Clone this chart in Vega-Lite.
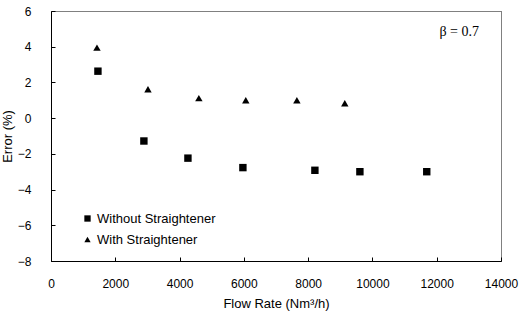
{
  "$schema": "https://vega.github.io/schema/vega-lite/v6.json",
  "width": 450,
  "height": 250,
  "autosize": {"type": "none"},
  "padding": {"left": 51, "top": 11, "right": 29, "bottom": 61},
  "background": "white",
  "config": {
    "view": {"stroke": "#000", "strokeDash": [1, 1], "strokeWidth": 1},
    "font": "Liberation Sans",
    "axis": {"labelOverlap": false, "labelFlush": false, "labelBound": false}
  },
  "datasets": {
    "pts": [
      {"flow": 1460, "error": 2.63, "series": "Without Straightener"},
      {"flow": 2890, "error": -1.28, "series": "Without Straightener"},
      {"flow": 4260, "error": -2.24, "series": "Without Straightener"},
      {"flow": 5970, "error": -2.77, "series": "Without Straightener"},
      {"flow": 8210, "error": -2.92, "series": "Without Straightener"},
      {"flow": 9610, "error": -3.0, "series": "Without Straightener"},
      {"flow": 11690, "error": -3.0, "series": "Without Straightener"},
      {"flow": 1430, "error": 3.95, "series": "With Straightener"},
      {"flow": 3017, "error": 1.62, "series": "With Straightener"},
      {"flow": 4600, "error": 1.12, "series": "With Straightener"},
      {"flow": 6060, "error": 1.0, "series": "With Straightener"},
      {"flow": 7650, "error": 1.0, "series": "With Straightener"},
      {"flow": 9140, "error": 0.83, "series": "With Straightener"}
    ],
    "ann": [{"flow": 12700, "error": 4.82, "label": "β = 0.7"}]
  },
  "encoding": {
    "x": {
      "field": "flow", "type": "quantitative",
      "scale": {"domain": [0, 14000], "nice": false},
      "axis": {
        "title": "Flow Rate (Nm³/h)", "values": [0, 2000, 4000, 6000, 8000, 10000, 12000, 14000],
        "format": "d",
        "grid": false, "domainColor": "#000", "tickColor": "#000", "tickSize": -4,
        "labelPadding": 21, "labelFontSize": 12, "labelColor": "#000",
        "titleFontSize": 13, "titleFontWeight": "normal", "titleColor": "#000", "titlePadding": 8
      }
    },
    "y": {
      "field": "error", "type": "quantitative",
      "scale": {"domain": [-8, 6], "nice": false},
      "axis": {
        "title": "Error (%)", "values": [-8, -6, -4, -2, 0, 2, 4, 6],
        "format": "d",
        "grid": false, "domainColor": "#000", "tickColor": "#000", "tickSize": -4,
        "labelPadding": 24, "labelFontSize": 12, "labelColor": "#000",
        "titleFontSize": 13, "titleFontWeight": "normal", "titleColor": "#000", "titlePadding": 3
      }
    }
  },
  "layer": [
    {
      "data": {"name": "pts"},
      "mark": {"type": "point", "filled": true, "opacity": 1},
      "encoding": {
        "shape": {
          "field": "series", "type": "nominal",
          "scale": {"domain": ["Without Straightener", "With Straightener"], "range": ["square", "triangle-up"]},
          "legend": {
            "title": null, "orient": "none", "legendX": 30, "legendY": 201,
            "labelFontSize": 13, "labelColor": "#000", "symbolSize": 40,
            "symbolFillColor": "#000", "symbolStrokeColor": "#000", "rowPadding": 7, "labelOffset": 3
          }
        },
        "color": {"value": "#000"},
        "size": {"value": 55}
      }
    },
    {
      "data": {"name": "ann"},
      "mark": {"type": "text", "font": "Liberation Serif", "fontSize": 14, "color": "#000"},
      "encoding": {
        "text": {"field": "label"}
      }
    }
  ]
}
